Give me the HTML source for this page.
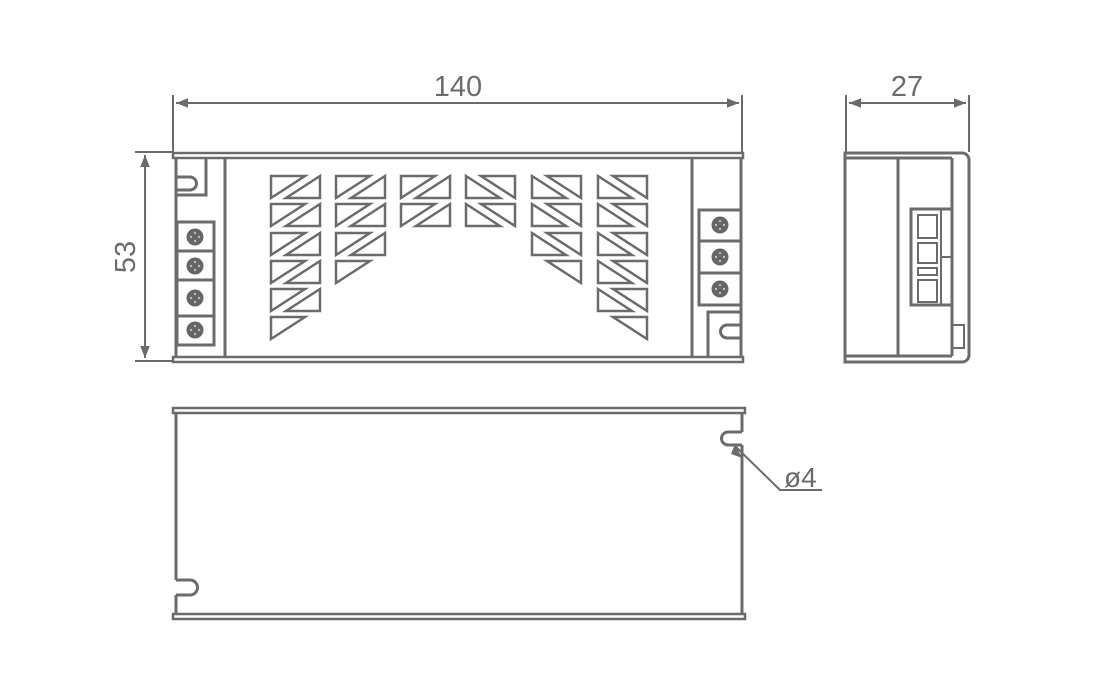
<!DOCTYPE html>
<html><head><style>body{margin:0;background:#fff}svg{display:block}</style></head><body>
<svg width="1098" height="683" viewBox="0 0 1098 683" xmlns="http://www.w3.org/2000/svg">
<defs>
<marker id="a" viewBox="0 0 10 10" refX="10" refY="5" markerWidth="12" markerHeight="12" markerUnits="userSpaceOnUse" orient="auto-start-reverse"><path d="M0,1 L10,5 L0,9 z" fill="#6b6b6b"/></marker>
</defs>
<g fill="none" stroke="#6b6b6b" stroke-width="3">
<!-- dimensions -->
<g stroke-width="2">
<line x1="173" y1="95" x2="173" y2="152"/><line x1="742" y1="95" x2="742" y2="152"/>
<line x1="176" y1="103" x2="739" y2="103" marker-start="url(#a)" marker-end="url(#a)"/>
<line x1="846" y1="95" x2="846" y2="152"/><line x1="969" y1="95" x2="969" y2="152"/>
<line x1="849" y1="103" x2="966" y2="103" marker-start="url(#a)" marker-end="url(#a)"/>
<line x1="135" y1="152" x2="172" y2="152"/><line x1="135" y1="361" x2="172" y2="361"/>
<line x1="145" y1="155" x2="145" y2="358" marker-start="url(#a)" marker-end="url(#a)"/>
<polyline points="735,446 780,490 822,490"/>
</g>
<path d="M735,444 L742,458 L731,454 z" fill="#6b6b6b" stroke="none"/>

<!-- front view -->
<rect x="173" y="153" width="570" height="5" stroke-width="2.5"/>
<rect x="173" y="357" width="570" height="5" stroke-width="2.5"/>
<line x1="176" y1="158" x2="176" y2="357"/>
<line x1="225" y1="158" x2="225" y2="357"/>
<path d="M206,158 V195 H177 M177,177 H190 a6.5,6.5 0 0 1 0,13 H177"/>
<rect x="177" y="222" width="37" height="123"/>
<line x1="177" y1="251" x2="214" y2="251"/><line x1="177" y1="280" x2="214" y2="280"/><line x1="177" y1="316" x2="214" y2="316"/>
<line x1="692" y1="158" x2="692" y2="357"/>
<line x1="741" y1="158" x2="741" y2="357"/>
<rect x="699" y="210" width="42" height="95"/>
<line x1="699" y1="241" x2="741" y2="241"/><line x1="699" y1="273" x2="741" y2="273"/>
<path d="M708,357 V312 H741 M741,325 H727 a6.5,6.5 0 0 0 0,13 H741"/>

<!-- vents -->
<g stroke-width="2.5">
<path id="L" d="M271,176 H305 L271,198 Z M320,176 V198 H286 Z"/>
<path id="R" d="M466,176 L500,198 H466 Z M481,176 H515 V198 Z"/>
</g>
</g>
<g fill="none" stroke="#6b6b6b" stroke-width="2.5">
<!-- left-handed columns -->
<use href="#L" y="28"/><use href="#L" y="57"/><use href="#L" y="85"/><use href="#L" y="113"/>
<path d="M271,317 H305 L271,339 Z"/>
<use href="#L" x="65"/><use href="#L" x="65" y="28"/><use href="#L" x="65" y="57"/>
<path d="M336,261 H370 L336,283 Z"/>
<use href="#L" x="130"/><use href="#L" x="130" y="28"/>
<use href="#R" y="28"/>
<use href="#R" x="66"/><use href="#R" x="66" y="28"/><use href="#R" x="66" y="57"/>
<path d="M547,261 H581 V283 Z"/>
<use href="#R" x="132"/><use href="#R" x="132" y="28"/><use href="#R" x="132" y="57"/><use href="#R" x="132" y="85"/><use href="#R" x="132" y="113"/>
<path d="M613,317 H647 V339 Z"/>
</g>
<!-- screws -->
<g fill="#666">
<circle cx="195" cy="237" r="8.5"/><circle cx="195" cy="266" r="8.5"/><circle cx="195" cy="298" r="8.5"/><circle cx="195" cy="330" r="8.5"/>
<circle cx="720" cy="225" r="8.5"/><circle cx="720" cy="257" r="8.5"/><circle cx="720" cy="289" r="8.5"/>
</g>
<g fill="#bbb">
<circle cx="195" cy="233" r="1.2"/><circle cx="195" cy="241" r="1.2"/><circle cx="191" cy="237" r="1.2"/><circle cx="199" cy="237" r="1.2"/>
<circle cx="195" cy="262" r="1.2"/><circle cx="195" cy="270" r="1.2"/><circle cx="191" cy="266" r="1.2"/><circle cx="199" cy="266" r="1.2"/>
<circle cx="195" cy="294" r="1.2"/><circle cx="195" cy="302" r="1.2"/><circle cx="191" cy="298" r="1.2"/><circle cx="199" cy="298" r="1.2"/>
<circle cx="195" cy="326" r="1.2"/><circle cx="195" cy="334" r="1.2"/><circle cx="191" cy="330" r="1.2"/><circle cx="199" cy="330" r="1.2"/>
<circle cx="720" cy="221" r="1.2"/><circle cx="720" cy="229" r="1.2"/><circle cx="716" cy="225" r="1.2"/><circle cx="724" cy="225" r="1.2"/>
<circle cx="720" cy="253" r="1.2"/><circle cx="720" cy="261" r="1.2"/><circle cx="716" cy="257" r="1.2"/><circle cx="724" cy="257" r="1.2"/>
<circle cx="720" cy="285" r="1.2"/><circle cx="720" cy="293" r="1.2"/><circle cx="716" cy="289" r="1.2"/><circle cx="724" cy="289" r="1.2"/>
</g>

<g fill="none" stroke="#6b6b6b" stroke-width="3">
<!-- side view -->
<path d="M845,153 H962 a7,7 0 0 1 7,7 V355 a7,7 0 0 1 -7,7 H845 Z"/>
<line x1="845" y1="158" x2="952" y2="158"/>
<line x1="845" y1="356" x2="952" y2="356"/>
<line x1="898" y1="158" x2="898" y2="356"/>
<line x1="952" y1="158" x2="952" y2="356"/>
<rect x="911" y="209" width="41" height="96"/>
<rect x="918" y="215" width="19" height="23" stroke-width="2"/>
<rect x="918" y="243" width="19" height="20" stroke-width="2"/>
<rect x="918" y="268" width="19" height="7" stroke-width="2"/>
<rect x="918" y="280" width="19" height="22" stroke-width="2"/>
<line x1="941" y1="209" x2="941" y2="305" stroke-width="2"/>
<line x1="941" y1="257" x2="952" y2="257" stroke-width="2"/>
<rect x="952" y="325" width="12" height="23" stroke-width="2"/>

<!-- bottom view -->
<rect x="173" y="408" width="572" height="5" stroke-width="2.5"/>
<rect x="173" y="614" width="572" height="5" stroke-width="2.5"/>
<line x1="176" y1="413" x2="176" y2="580"/><line x1="176" y1="595" x2="176" y2="614"/>
<path d="M176,580 H190 a7.5,7.5 0 0 1 0,15 H176"/>
<line x1="742" y1="413" x2="742" y2="432"/><line x1="742" y1="445" x2="742" y2="614"/>
<path d="M742,432 H728 a6.5,6.5 0 0 0 0,13 H742"/>
</g>

<g fill="#6b6b6b" font-family="Liberation Sans, sans-serif" font-size="29">
<text x="458" y="96" text-anchor="middle">140</text>
<text x="907" y="96" text-anchor="middle">27</text>
<text transform="translate(135,257) rotate(-90)" text-anchor="middle">53</text>
<text x="784" y="487" font-size="28">ø4</text>
</g>
</svg>
</body></html>
